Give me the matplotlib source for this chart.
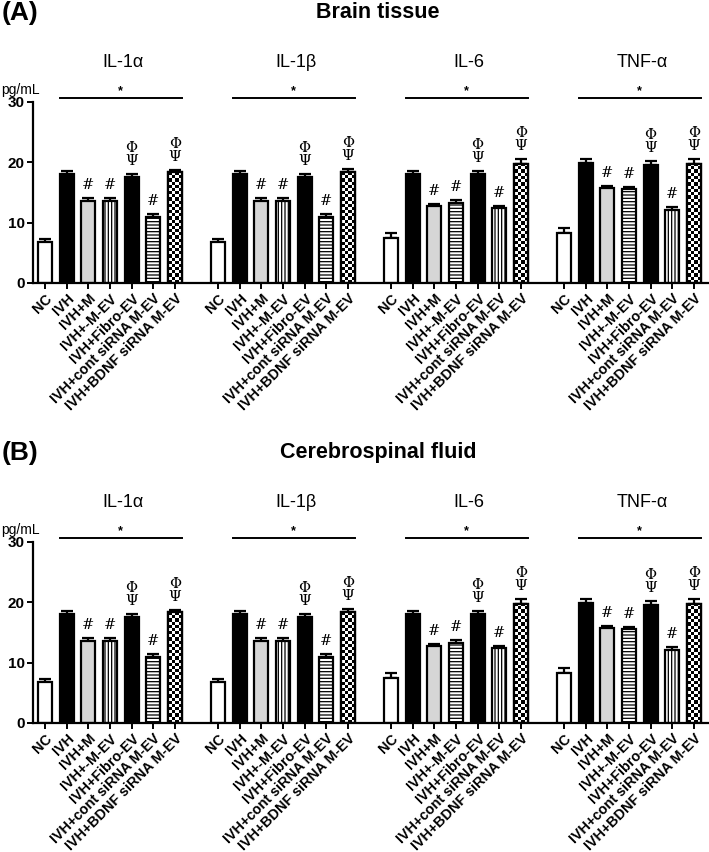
import numpy as np
import matplotlib
matplotlib.use("Agg")
import matplotlib.pyplot as plt
from matplotlib.transforms import blended_transform_factory

plt.rcParams['font.family'] = ['Liberation Sans', 'DejaVu Sans']
plt.rcParams['hatch.linewidth'] = 0.9

# ---------------- data ----------------
groups = ["IL-1α", "IL-1β", "IL-6", "TNF-α"]
conditions = ["NC", "IVH", "IVH+M", "IVH+-M-EV", "IVH+Fibro-EV",
              "IVH+cont siRNA M-EV", "IVH+BDNF siRNA M-EV"]

brain_means = {
    "IL-1α": [6.8, 18.0, 13.6, 13.6, 17.6, 11.0, 18.3],
    "IL-1β": [6.8, 18.0, 13.6, 13.5, 17.5, 11.0, 18.3],
    "IL-6":  [7.5, 18.1, 12.7, 13.3, 18.0, 12.4, 19.7],
    "TNF-α": [8.3, 19.8, 15.7, 15.5, 19.5, 12.1, 19.7],
}
brain_errs = {
    "IL-1α": [0.55, 0.5, 0.5, 0.5, 0.5, 0.45, 0.45],
    "IL-1β": [0.55, 0.5, 0.5, 0.5, 0.5, 0.45, 0.5],
    "IL-6":  [0.7, 0.5, 0.4, 0.4, 0.6, 0.4, 0.8],
    "TNF-α": [0.8, 0.75, 0.35, 0.45, 0.75, 0.5, 0.75],
}
# CSF panel shows the same values
csf_means = {k: list(v) for k, v in brain_means.items()}
csf_errs = {k: list(v) for k, v in brain_errs.items()}

hash_marks = [2, 3, 5]       # '#'
phi_psi_marks = [4, 6]       # Φ over Ψ
yticks = [0, 10, 20, 30]

# styles per condition (group dependent for the line hatches)
def bar_style(gi, ci):
    if ci == 0:
        return dict(facecolor="white", hatch=None)
    if ci in (1, 4):
        return dict(facecolor="black", hatch=None)
    if ci == 2:
        return dict(facecolor="#d6d6d6", hatch=None)
    if ci == 6:
        return dict(facecolor="white", hatch=None)
    vert_idx = 3 if gi < 2 else 5
    if ci == vert_idx:
        return dict(facecolor="white", hatch="|||||")
    return dict(facecolor="white", hatch="-----")

W, H = 709, 852
fig = plt.figure(figsize=(W / 100, H / 100), dpi=100)

width = 0.65
stride = 8


def draw_panel(ax, means, errs, letter, title, title_y_px):
    ax.set_xlim(-0.56, 30.7)
    ax.set_ylim(0, 30)
    bars_all = []
    for gi, g in enumerate(groups):
        xs = np.arange(len(conditions)) + gi * stride
        m = np.array(means[g])
        e = np.array(errs[g])
        for ci in range(len(conditions)):
            st = bar_style(gi, ci)
            b = ax.bar(xs[ci], m[ci], width=width, facecolor=st["facecolor"],
                       edgecolor="black", linewidth=1.6, hatch=st["hatch"], zorder=2)
            bars_all.append((gi, ci, b.patches[0]))
        ax.errorbar(xs, m, yerr=[np.zeros_like(e), e], fmt="none", ecolor="black",
                    elinewidth=1.6, capsize=4, capthick=1.6, zorder=1.5)
        # significance line with star
        x0 = xs[1] - width / 2
        x1 = xs[6] + width / 2
        ax.plot([x0, x1], [30.55, 30.55], color="black", lw=1.4, clip_on=False)
        ax.annotate("*", xy=((x0 + x1) / 2, 30.55), xytext=(0, 1),
                    textcoords="offset pixels", ha="center", va="bottom",
                    fontsize=9, fontweight="bold", annotation_clip=False)
        for ci in hash_marks:
            ax.annotate("#", xy=(xs[ci], m[ci] + e[ci]), xytext=(0, 13),
                        textcoords="offset pixels", ha="center", va="center",
                        fontsize=10.5, family="DejaVu Serif", annotation_clip=False)
        for ci in phi_psi_marks:
            ax.annotate("Ψ", xy=(xs[ci], m[ci] + e[ci]), xytext=(0, 13),
                        textcoords="offset pixels", ha="center", va="center",
                        fontsize=10.5, family="DejaVu Serif", annotation_clip=False)
            ax.annotate("Φ", xy=(xs[ci], m[ci] + e[ci]), xytext=(0, 26),
                        textcoords="offset pixels", ha="center", va="center",
                        fontsize=10.5, family="DejaVu Serif", annotation_clip=False)
        # group title
        trans = blended_transform_factory(ax.transData, ax.transAxes)
        ax.text(xs[0] + 3.6, 1.215, g, transform=trans, ha="center", va="center",
                fontsize=13)

    # checkerboard fill for the last bar of each group
    fig.canvas.draw()
    for gi, ci, p in bars_all:
        if ci != 6:
            continue
        bb = p.get_window_extent()
        ncol = max(1, int(round(bb.width / 3.2)))
        nrow = max(1, int(round(bb.height / 3.2)))
        arr = (np.add.outer(np.arange(nrow), np.arange(ncol)) % 2).astype(float)
        x = p.get_x()
        im = ax.imshow(arr, extent=(x, x + p.get_width(), 0, p.get_height()),
                       cmap="gray", interpolation="nearest", aspect="auto",
                       origin="lower", zorder=2.2)
        im.set_clip_path(p)
        ax.bar(x + p.get_width() / 2, p.get_height(), width=p.get_width(),
               fill=False, edgecolor="black", linewidth=1.6, zorder=2.5)
    ax.set_xlim(-0.56, 30.7)
    ax.set_ylim(0, 30)

    # axes styling
    for s in ("top", "right"):
        ax.spines[s].set_visible(False)
    ax.spines["left"].set_linewidth(1.6)
    ax.spines["bottom"].set_linewidth(1.6)
    ax.set_yticks(yticks)
    ax.set_yticklabels([str(t) for t in yticks], fontweight="bold", fontsize=11)
    xt = np.concatenate([np.arange(len(conditions)) + gi * stride for gi in range(len(groups))])
    ax.set_xticks(xt)
    ax.set_xticklabels(conditions * len(groups), rotation=45, ha="right",
                       rotation_mode="anchor", fontweight="bold", fontsize=10.3)
    ax.tick_params(axis="both", length=4, width=1.4, pad=2)
    ax.annotate("pg/mL", xy=(0, 1), xycoords="axes fraction", xytext=(-13, 12),
                textcoords="offset pixels", ha="center", va="center", fontsize=10)

    fig.text(2 / W, 1 - title_y_px / H, letter, fontsize=19, fontweight="bold",
             ha="left", va="center")
    fig.text(378 / W, 1 - title_y_px / H, title, fontsize=15.5, fontweight="bold",
             ha="center", va="center")


axA = fig.add_axes([33 / W, 1 - 283 / H, 1 - 33 / W, (283 - 101.7) / H])
axB = fig.add_axes([33 / W, 1 - 723 / H, 1 - 33 / W, (723 - 541.7) / H])
draw_panel(axA, brain_means, brain_errs, "(A)", "Brain tissue", 13)
draw_panel(axB, csf_means, csf_errs, "(B)", "Cerebrospinal fluid", 453)

fig.savefig("out.png", dpi=100)
